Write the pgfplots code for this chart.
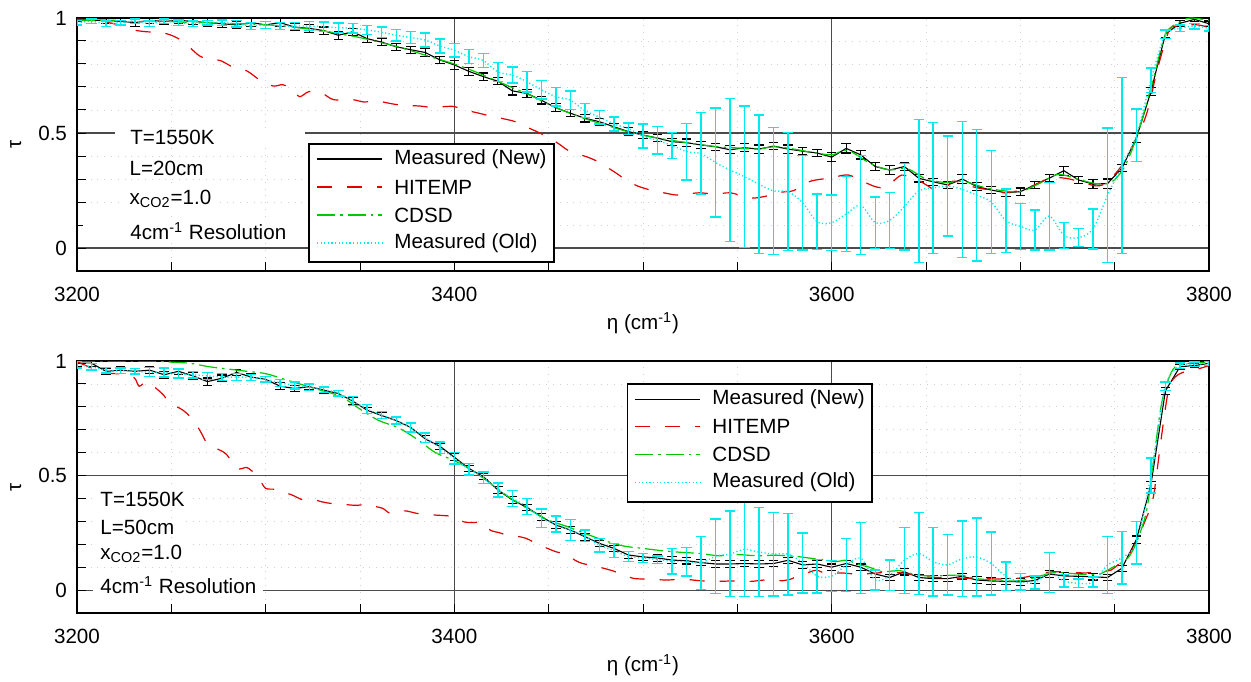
\documentclass[border=0pt]{standalone}
\usepackage{pgfplots}
\pgfplotsset{compat=1.18}
\usepackage{pgfplotstable}
\usepackage{fontspec}
\setmainfont{Liberation Sans}
\definecolor{hred}{RGB}{225,0,0}
\definecolor{cgreen}{RGB}{0,200,0}
\definecolor{ocyan}{RGB}{0,235,235}
\definecolor{gridgray}{RGB}{75,75,75}
\newcommand{\fs}{\fontsize{10.3}{12.4}\selectfont}

% ---------------- TOP PANEL (L=20cm) ----------------
\pgfplotstableread{
x y e
3200.0 0.995 0.012
3207.7 0.990 0.014
3215.4 0.990 0.014
3223.1 0.985 0.014
3230.8 0.980 0.016
3238.5 0.990 0.014
3246.2 0.985 0.014
3253.8 0.990 0.014
3261.5 0.985 0.014
3269.2 0.980 0.016
3276.9 0.975 0.016
3284.6 0.970 0.016
3292.3 0.980 0.016
3300.0 0.970 0.016
3307.7 0.980 0.018
3315.4 0.960 0.016
3323.1 0.955 0.018
3330.8 0.945 0.016
3338.5 0.925 0.018
3346.2 0.940 0.016
3353.8 0.910 0.018
3361.5 0.895 0.016
3369.2 0.875 0.016
3376.9 0.862 0.016
3384.6 0.850 0.016
3392.3 0.818 0.016
3400.0 0.796 0.018
3407.7 0.768 0.018
3415.4 0.745 0.016
3423.1 0.725 0.016
3430.8 0.683 0.018
3438.5 0.672 0.016
3446.2 0.642 0.016
3453.8 0.610 0.018
3461.5 0.586 0.016
3469.2 0.564 0.016
3476.9 0.549 0.016
3484.6 0.527 0.016
3492.3 0.506 0.016
3500.0 0.491 0.016
3507.7 0.478 0.016
3515.4 0.462 0.016
3523.1 0.458 0.016
3530.8 0.448 0.016
3538.5 0.440 0.016
3546.2 0.427 0.018
3553.8 0.436 0.018
3561.5 0.430 0.018
3569.2 0.443 0.016
3576.9 0.430 0.018
3584.6 0.421 0.016
3592.3 0.413 0.016
3600.0 0.395 0.020
3607.7 0.433 0.020
3615.4 0.405 0.018
3623.1 0.354 0.016
3630.8 0.339 0.020
3638.5 0.354 0.016
3646.2 0.303 0.016
3653.8 0.288 0.016
3661.5 0.274 0.016
3669.2 0.300 0.018
3676.9 0.267 0.016
3684.6 0.252 0.016
3692.3 0.240 0.016
3700.0 0.245 0.016
3707.7 0.274 0.016
3715.4 0.304 0.016
3723.1 0.336 0.020
3730.8 0.296 0.016
3738.5 0.278 0.018
3746.2 0.280 0.020
3753.8 0.347 0.016
3761.5 0.478 0.020
3769.2 0.680 0.016
3776.9 0.930 0.016
3784.6 0.977 0.012
3792.3 0.994 0.010
3800.0 0.975 0.012
}\topnew

\pgfplotstableread{
x y e
3200.0 0.980 0.010
3207.7 0.985 0.010
3215.4 0.975 0.012
3223.1 0.980 0.010
3230.8 0.985 0.010
3238.5 0.975 0.012
3246.2 0.985 0.010
3253.8 0.980 0.012
3261.5 0.975 0.012
3269.2 0.980 0.010
3276.9 0.980 0.012
3284.6 0.975 0.015
3292.3 0.965 0.015
3300.0 0.970 0.015
3307.7 0.965 0.015
3315.4 0.965 0.015
3323.1 0.965 0.020
3330.8 0.962 0.020
3338.5 0.958 0.020
3346.2 0.955 0.020
3353.8 0.948 0.020
3361.5 0.938 0.022
3369.2 0.925 0.025
3376.9 0.915 0.025
3384.6 0.904 0.030
3392.3 0.878 0.030
3400.0 0.860 0.030
3407.7 0.832 0.030
3415.4 0.815 0.030
3423.1 0.765 0.042
3430.8 0.752 0.035
3438.5 0.723 0.045
3446.2 0.687 0.040
3453.8 0.658 0.040
3461.5 0.643 0.040
3469.2 0.597 0.030
3476.9 0.569 0.030
3484.6 0.539 0.030
3492.3 0.519 0.025
3500.0 0.487 0.053
3507.7 0.468 0.060
3515.4 0.446 0.056
3523.1 0.419 0.123
3530.8 0.410 0.178
3538.5 0.371 0.237
3546.2 0.339 0.312
3553.8 0.310 0.307
3561.5 0.277 0.302
3569.2 0.248 0.275
3576.9 0.245 0.257
3584.6 0.197 0.205
3592.3 0.114 0.120
3600.0 0.110 0.121
3607.7 0.148 0.163
3615.4 0.186 0.215
3623.1 0.110 0.111
3630.8 0.120 0.121
3638.5 0.180 0.188
3646.2 0.249 0.311
3653.8 0.261 0.284
3661.5 0.270 0.217
3669.2 0.255 0.296
3676.9 0.230 0.286
3684.6 0.200 0.223
3692.3 0.119 0.138
3700.0 0.094 0.100
3707.7 0.078 0.087
3715.4 0.139 0.147
3723.1 0.055 0.056
3730.8 0.045 0.039
3738.5 0.083 0.087
3746.2 0.229 0.292
3753.8 0.359 0.382
3761.5 0.490 0.114
3769.2 0.730 0.053
3776.9 0.930 0.018
3784.6 0.955 0.015
3792.3 0.965 0.012
3800.0 0.955 0.012
}\topold

\pgfplotstableread{
x y
3200 0.995
3210 0.990
3217 0.980
3224 0.965
3230 0.948
3237 0.940
3244 0.938
3250 0.925
3255 0.904
3260 0.870
3265 0.835
3270 0.820
3276 0.815
3283 0.785
3290 0.770
3297 0.730
3304 0.704
3309 0.710
3314 0.690
3318 0.658
3323 0.680
3330 0.672
3336 0.645
3346 0.645
3352 0.635
3359 0.639
3365 0.630
3371 0.622
3382 0.617
3389 0.610
3395 0.615
3400 0.615
3405 0.600
3411 0.590
3417 0.578
3426 0.562
3432 0.550
3438 0.527
3444 0.505
3449 0.484
3455 0.455
3460 0.426
3465 0.410
3470 0.397
3475 0.380
3479 0.360
3485 0.330
3491 0.296
3497 0.270
3504 0.252
3511 0.240
3518 0.230
3524 0.235
3530 0.240
3538 0.235
3546 0.240
3552 0.228
3558 0.217
3565 0.225
3571 0.240
3576 0.245
3580 0.250
3588 0.288
3595 0.300
3600 0.303
3605 0.315
3609 0.317
3613 0.305
3617 0.288
3622 0.270
3626 0.262
3630 0.270
3634 0.300
3637 0.317
3641 0.310
3644 0.305
3648 0.285
3651 0.270
3656 0.245
3660 0.260
3664 0.290
3668 0.285
3673 0.270
3678 0.260
3682 0.255
3687 0.250
3691 0.240
3696 0.245
3700 0.250
3705 0.265
3709 0.280
3713 0.295
3717 0.303
3722 0.305
3726 0.300
3731 0.290
3735 0.280
3740 0.270
3744 0.275
3747 0.296
3752 0.339
3757 0.400
3761 0.470
3765 0.540
3768 0.614
3773 0.788
3779 0.948
3784 0.965
3788 0.970
3794 0.970
3800 0.960
}\topred

\pgfplotstableread{
x y
3200 0.990
3210 0.990
3220 0.990
3230 0.985
3240 0.985
3250 0.985
3260 0.980
3270 0.980
3280 0.975
3290 0.975
3300 0.970
3310 0.965
3320 0.955
3330 0.945
3340 0.930
3350 0.915
3360 0.895
3370 0.875
3380 0.850
3390 0.825
3400 0.800
3410 0.770
3420 0.735
3430 0.700
3440 0.665
3450 0.625
3460 0.590
3470 0.560
3480 0.535
3490 0.510
3500 0.490
3510 0.475
3520 0.462
3530 0.450
3540 0.440
3550 0.435
3560 0.430
3570 0.440
3580 0.430
3590 0.415
3600 0.405
3605 0.420
3610 0.420
3620 0.370
3630 0.340
3640 0.345
3650 0.300
3660 0.285
3670 0.290
3680 0.265
3690 0.250
3700 0.245
3710 0.280
3720 0.320
3730 0.300
3740 0.280
3748 0.285
3755 0.350
3762 0.490
3770 0.720
3777 0.930
3784 0.980
3790 1.000
3800 0.990
}\topgreen

% ---------------- BOTTOM PANEL (L=50cm) ----------------
\pgfplotstableread{
x y e
3200.0 0.990 0.014
3207.7 0.990 0.014
3215.4 0.955 0.014
3223.1 0.960 0.014
3230.8 0.955 0.014
3238.5 0.960 0.014
3246.2 0.940 0.014
3253.8 0.955 0.014
3261.5 0.935 0.014
3269.2 0.910 0.016
3276.9 0.925 0.014
3284.6 0.950 0.014
3292.3 0.930 0.014
3300.0 0.920 0.014
3307.7 0.890 0.016
3315.4 0.880 0.014
3323.1 0.888 0.014
3330.8 0.873 0.014
3338.5 0.858 0.014
3346.2 0.825 0.016
3353.8 0.785 0.014
3361.5 0.762 0.014
3369.2 0.740 0.014
3376.9 0.710 0.016
3384.6 0.660 0.014
3392.3 0.628 0.014
3400.0 0.580 0.016
3407.7 0.531 0.014
3415.4 0.495 0.014
3423.1 0.437 0.016
3430.8 0.393 0.014
3438.5 0.361 0.014
3446.2 0.320 0.016
3453.8 0.284 0.014
3461.5 0.262 0.014
3469.2 0.233 0.016
3476.9 0.204 0.014
3484.6 0.182 0.014
3492.3 0.153 0.016
3500.0 0.145 0.014
3507.7 0.140 0.014
3515.4 0.131 0.014
3523.1 0.128 0.014
3530.8 0.120 0.014
3538.5 0.114 0.014
3546.2 0.114 0.014
3553.8 0.116 0.014
3561.5 0.114 0.014
3569.2 0.116 0.014
3576.9 0.130 0.014
3584.6 0.110 0.014
3592.3 0.114 0.014
3600.0 0.100 0.014
3607.7 0.116 0.014
3615.4 0.100 0.014
3623.1 0.070 0.014
3630.8 0.055 0.014
3638.5 0.080 0.014
3646.2 0.055 0.014
3653.8 0.050 0.014
3661.5 0.050 0.014
3669.2 0.060 0.014
3676.9 0.044 0.014
3684.6 0.040 0.014
3692.3 0.038 0.014
3700.0 0.036 0.014
3707.7 0.042 0.014
3715.4 0.070 0.014
3723.1 0.062 0.014
3730.8 0.060 0.014
3738.5 0.058 0.014
3746.2 0.055 0.014
3753.8 0.095 0.014
3761.5 0.220 0.016
3769.2 0.460 0.016
3776.9 0.870 0.016
3784.6 0.975 0.012
3792.3 0.980 0.010
3800.0 0.990 0.010
}\botnew

\pgfplotstableread{
x y e
3200.0 0.985 0.015
3207.7 0.975 0.015
3215.4 0.960 0.012
3223.1 0.958 0.012
3230.8 0.955 0.012
3238.5 0.952 0.020
3246.2 0.950 0.020
3253.8 0.945 0.020
3261.5 0.940 0.015
3269.2 0.935 0.015
3276.9 0.930 0.015
3284.6 0.930 0.015
3292.3 0.928 0.012
3300.0 0.920 0.012
3307.7 0.905 0.015
3315.4 0.893 0.015
3323.1 0.885 0.015
3330.8 0.875 0.012
3338.5 0.860 0.012
3346.2 0.825 0.020
3353.8 0.790 0.020
3361.5 0.765 0.015
3369.2 0.740 0.015
3376.9 0.710 0.020
3384.6 0.665 0.020
3392.3 0.622 0.025
3400.0 0.575 0.025
3407.7 0.528 0.025
3415.4 0.491 0.025
3423.1 0.437 0.030
3430.8 0.400 0.035
3438.5 0.365 0.035
3446.2 0.314 0.040
3453.8 0.288 0.035
3461.5 0.262 0.045
3469.2 0.237 0.025
3476.9 0.196 0.030
3484.6 0.173 0.030
3492.3 0.146 0.022
3500.0 0.140 0.020
3507.7 0.133 0.016
3515.4 0.126 0.056
3523.1 0.124 0.062
3530.8 0.119 0.116
3538.5 0.148 0.162
3546.2 0.158 0.187
3553.8 0.178 0.207
3561.5 0.166 0.195
3569.2 0.157 0.183
3576.9 0.157 0.178
3584.6 0.119 0.131
3592.3 0.061 0.073
3600.0 0.061 0.068
3607.7 0.109 0.116
3615.4 0.140 0.156
3623.1 0.044 0.044
3630.8 0.064 0.067
3638.5 0.130 0.144
3646.2 0.160 0.180
3653.8 0.124 0.150
3661.5 0.110 0.132
3669.2 0.137 0.165
3676.9 0.144 0.170
3684.6 0.116 0.138
3692.3 0.060 0.063
3700.0 0.036 0.036
3707.7 0.033 0.028
3715.4 0.077 0.088
3723.1 0.040 0.027
3730.8 0.030 0.018
3738.5 0.035 0.022
3746.2 0.109 0.124
3753.8 0.141 0.115
3761.5 0.207 0.093
3769.2 0.500 0.076
3776.9 0.890 0.018
3784.6 0.980 0.012
3792.3 0.985 0.010
3800.0 0.990 0.010
}\botold

\pgfplotstableread{
x y
3200 0.997
3206 0.975
3212 0.950
3220 0.945
3228 0.940
3231 0.920
3233 0.890
3237 0.910
3242 0.880
3246 0.850
3249 0.815
3253 0.800
3256 0.786
3260 0.757
3265 0.699
3269 0.640
3274 0.618
3279 0.594
3285 0.531
3290 0.535
3294 0.510
3297 0.480
3300 0.444
3305 0.440
3309 0.429
3314 0.415
3320 0.393
3325 0.395
3330 0.385
3334 0.379
3340 0.375
3348 0.370
3354 0.375
3358 0.365
3362 0.357
3366 0.335
3370 0.345
3375 0.345
3380 0.335
3389 0.328
3395 0.325
3400 0.320
3405 0.298
3410 0.295
3415 0.295
3419 0.262
3424 0.250
3428 0.240
3433 0.235
3438 0.226
3445 0.197
3450 0.180
3454 0.167
3460 0.155
3464 0.130
3468 0.116
3473 0.108
3477 0.100
3484 0.084
3490 0.065
3495 0.051
3504 0.047
3513 0.044
3521 0.048
3530 0.041
3539 0.038
3548 0.040
3557 0.038
3566 0.045
3574 0.041
3579 0.050
3583 0.066
3588 0.078
3592 0.087
3597 0.073
3605 0.075
3613 0.070
3620 0.072
3630 0.078
3639 0.073
3647 0.060
3656 0.055
3664 0.052
3673 0.052
3682 0.050
3691 0.048
3697 0.050
3703 0.057
3710 0.070
3717 0.080
3726 0.078
3735 0.075
3744 0.083
3748 0.087
3753 0.120
3758 0.160
3762 0.218
3766 0.300
3769 0.360
3771 0.430
3774 0.620
3777 0.800
3779 0.890
3782 0.930
3786 0.950
3792 0.960
3800 0.980
}\botred

\pgfplotstableread{
x y
3200 1.000
3210 1.000
3220 1.000
3230 1.000
3240 1.000
3250 0.995
3260 0.990
3270 0.975
3280 0.965
3290 0.955
3300 0.945
3310 0.920
3320 0.895
3330 0.870
3340 0.845
3350 0.790
3360 0.740
3370 0.710
3380 0.660
3390 0.600
3400 0.565
3410 0.520
3420 0.460
3430 0.400
3440 0.350
3450 0.305
3460 0.277
3470 0.245
3480 0.215
3490 0.192
3500 0.182
3510 0.172
3520 0.165
3530 0.160
3540 0.150
3550 0.155
3560 0.150
3570 0.152
3580 0.148
3590 0.138
3597 0.131
3602 0.124
3608 0.130
3615 0.110
3620 0.100
3627 0.080
3636 0.085
3645 0.066
3654 0.062
3668 0.065
3677 0.050
3693 0.040
3703 0.045
3717 0.075
3726 0.073
3735 0.068
3742 0.070
3749 0.100
3757 0.140
3762 0.218
3767 0.350
3771 0.590
3775 0.820
3780 0.950
3785 0.985
3800 0.995
}\botgreen

\pgfplotsset{
  panel/.style={
    scale only axis, width=566pt,
    xmin=3200, xmax=3800, ymin=-0.1, ymax=1,
    xtick={3200,3400,3600,3800}, minor x tick num=3,
    ytick={0,0.5,1}, minor ytick={-0.1,0.1,0.2,0.3,0.4,0.6,0.7,0.8,0.9},
    tick pos=left, tick align=inside,
    major tick length=4.5pt, minor tick length=4.5pt,
    grid=both,
    major grid style={gridgray, line width=0.55pt},
    minor grid style={black!18, line width=0.4pt, dash pattern=on 0.4pt off 3pt},
    axis line style={line width=0.7pt},
    every tick/.style={black, line width=0.5pt},
    minor tick style={black, line width=0.5pt},
    /pgf/number format/assume math mode=true,
    scaled ticks=false,
    xticklabel style={font=\fs, yshift=-4.5pt, /pgf/number format/1000 sep={}},
    yticklabel style={font=\fs, xshift=-1.5pt, /pgf/number format/fixed},
    label style={font=\fs},
    xlabel={η (cm\textsuperscript{-1})},
    ylabel={τ},
    xlabel style={at={(axis description cs:0.5,-0.135)}, anchor=north},
    ylabel style={at={(axis description cs:-0.054,0.5)}, anchor=center},
  },
  newstyle/.style={color=black, solid, line width=0.55pt, no markers,
    error bars/y dir=both, error bars/y explicit,
    error bars/error bar style={black, solid, line width=0.55pt},
    error bars/error mark options={rotate=90, black, solid, mark size=2.4pt, line width=0.55pt}},
  oldstyle/.style={color=ocyan, line width=0.7pt, dash pattern=on 0.6pt off 1.2pt, no markers, smooth,
    error bars/y dir=both, error bars/y explicit,
    error bars/error bar style={ocyan, solid, line width=0.7pt},
    error bars/error mark options={rotate=90, ocyan, solid, mark size=2.6pt, line width=0.7pt}},
  redstyle/.style={color=hred, line width=0.6pt, dash pattern=on 7.5pt off 7.5pt, no markers, smooth},
  greenstyle/.style={color=cgreen, line width=0.6pt, dash pattern=on 9pt off 2.5pt on 1.3pt off 2.5pt, no markers, smooth},
}

% legend drawn in axis description coordinates: #1 left, #2 right, #3 bottom, #4 top,
% #5 line start, #6 line end, #7 text x, #8..#11 row centres
\newcommand{\mylegend}[4]{%
  \draw[black, line width=0.6pt, fill=white] (axis description cs:#1,#3) rectangle (axis description cs:#2,#4);}
\newcommand{\legrow}[5]{%
  \draw[#4] (axis description cs:#1,#3) -- (axis description cs:#2,#3);}

\begin{document}
\begin{tikzpicture}
\path[use as bounding box] (0,0) rectangle (625.5pt,340.5pt);

\begin{axis}[panel, height=126.5pt, at={(38.5pt,205pt)}, anchor=south west]
\addplot[newstyle] table[x=x,y=y,y error=e] {\topnew};
\addplot[redstyle] table[x=x,y=y] {\topred};
\addplot[greenstyle] table[x=x,y=y] {\topgreen};
\addplot[oldstyle] table[x=x,y=y,y error=e] {\topold};
\node[anchor=west, font=\fs, fill=white, inner xsep=0pt, inner ysep=1pt] at (axis cs:3220.1,0.483) {\hspace*{7.5pt}T=1550K\hspace*{45pt}};
\node[anchor=west, font=\fs, fill=white, inner xsep=3.5pt, inner ysep=1pt] at (axis cs:3224,0.348) {L=20cm};
\node[anchor=west, font=\fs, fill=white, inner xsep=3.5pt, inner ysep=1pt] at (axis cs:3224,0.213) {x\textsubscript{CO2}=1.0};
\node[anchor=west, font=\fs, fill=white, inner xsep=0pt, inner ysep=1pt] at (axis cs:3203.2,0.074) {\hspace*{23.5pt}4cm\textsuperscript{-1} Resolution\hspace*{9pt}};
% legend
\mylegend{0.205}{0.4214}{0.0356}{0.502}
\legrow{0.2120}{0.2694}{0.4427}{draw=black, line width=0.55pt}{}
\legrow{0.2120}{0.2694}{0.3320}{draw=hred, line width=0.6pt, dash pattern=on 7.5pt off 7.5pt}{}
\legrow{0.2120}{0.2694}{0.2213}{draw=cgreen, line width=0.6pt, dash pattern=on 9pt off 2.5pt on 1.3pt off 2.5pt}{}
\legrow{0.2120}{0.2694}{0.1107}{draw=ocyan, line width=0.7pt, dash pattern=on 0.6pt off 1.2pt}{}
\node[anchor=west, font=\fs, inner sep=0pt] at (axis description cs:0.2800,0.4427) {Measured (New)};
\node[anchor=west, font=\fs, inner sep=0pt] at (axis description cs:0.2800,0.3320) {HITEMP};
\node[anchor=west, font=\fs, inner sep=0pt] at (axis description cs:0.2800,0.2213) {CDSD};
\node[anchor=west, font=\fs, inner sep=0pt] at (axis description cs:0.2800,0.1107) {Measured (Old)};
\end{axis}

\begin{axis}[panel, height=126pt, at={(38.5pt,34pt)}, anchor=south west]
\addplot[newstyle] table[x=x,y=y,y error=e] {\botnew};
\addplot[redstyle] table[x=x,y=y] {\botred};
\addplot[greenstyle] table[x=x,y=y] {\botgreen};
\addplot[oldstyle] table[x=x,y=y,y error=e] {\botold};
\node[anchor=west, font=\fs, fill=white, inner xsep=3.5pt, inner ysep=1pt] at (axis cs:3208.5,0.397) {T=1550K};
\node[anchor=west, font=\fs, fill=white, inner xsep=3.5pt, inner ysep=1pt] at (axis cs:3208.5,0.275) {L=50cm};
\node[anchor=west, font=\fs, fill=white, inner xsep=3.5pt, inner ysep=1pt] at (axis cs:3208.5,0.157) {x\textsubscript{CO2}=1.0};
\node[anchor=west, font=\fs, fill=white, inner xsep=3.5pt, inner ysep=1pt] at (axis cs:3208.5,0.022) {4cm\textsuperscript{-1} Resolution};
% legend
\mylegend{0.486}{0.7023}{0.4405}{0.909}
\legrow{0.4929}{0.5504}{0.848}{draw=black, line width=0.55pt}{}
\legrow{0.4929}{0.5504}{0.740}{draw=hred, line width=0.6pt, dash pattern=on 7.5pt off 7.5pt}{}
\legrow{0.4929}{0.5504}{0.630}{draw=cgreen, line width=0.6pt, dash pattern=on 9pt off 2.5pt on 1.3pt off 2.5pt}{}
\legrow{0.4929}{0.5504}{0.518}{draw=ocyan, line width=0.7pt, dash pattern=on 0.6pt off 1.2pt}{}
\node[anchor=west, font=\fs, inner sep=0pt] at (axis description cs:0.5610,0.848) {Measured (New)};
\node[anchor=west, font=\fs, inner sep=0pt] at (axis description cs:0.5610,0.740) {HITEMP};
\node[anchor=west, font=\fs, inner sep=0pt] at (axis description cs:0.5610,0.630) {CDSD};
\node[anchor=west, font=\fs, inner sep=0pt] at (axis description cs:0.5610,0.518) {Measured (Old)};
\end{axis}
\end{tikzpicture}
\end{document}
